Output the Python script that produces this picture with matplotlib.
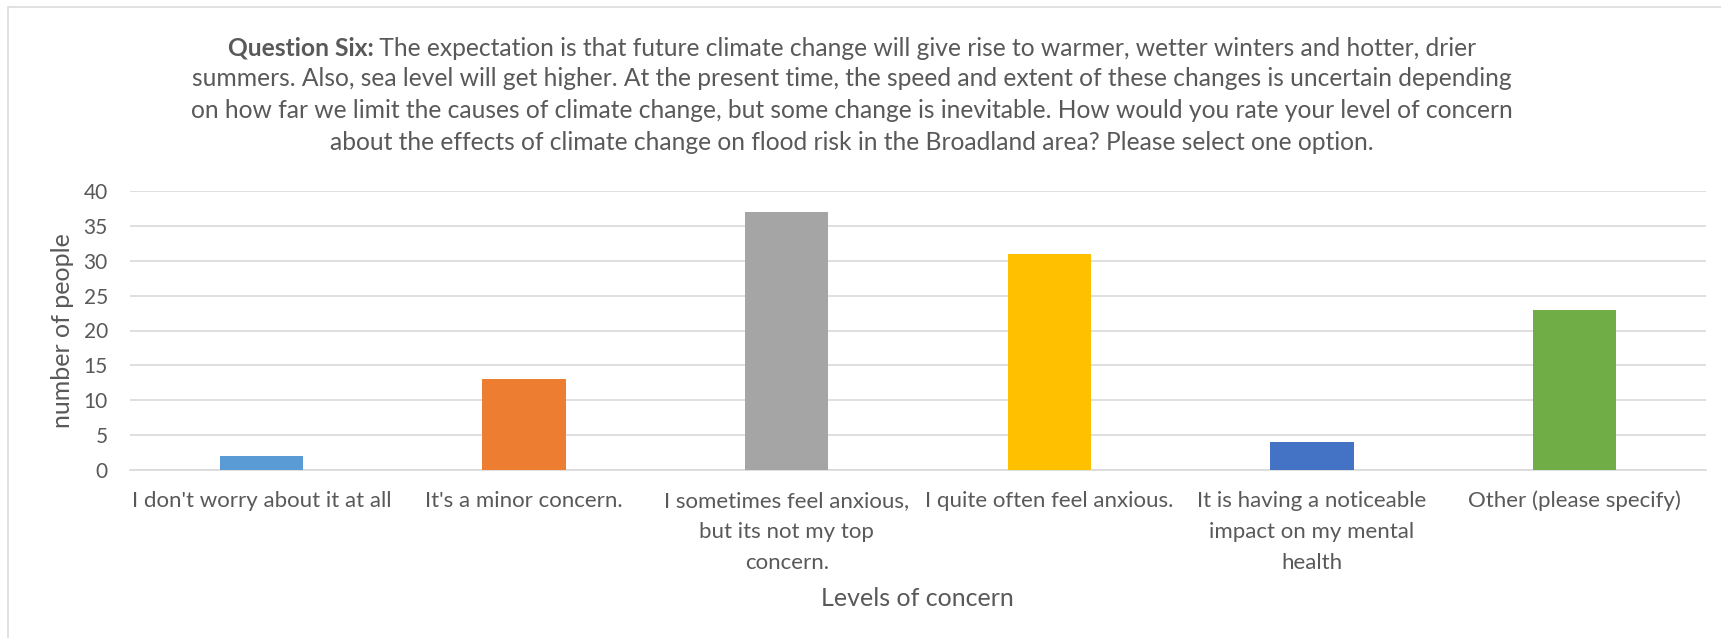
import matplotlib
matplotlib.use("Agg")
import matplotlib.pyplot as plt
from matplotlib.patches import Rectangle

# Survey responses: level of concern about climate change and flood risk
categories = [
    "I don't worry about it at all",
    "It's a minor concern.",
    "I sometimes feel anxious,\nbut its not my top\nconcern.",
    "I quite often feel anxious.",
    "It is having a noticeable\nimpact on my mental\nhealth",
    "Other (please specify)",
]
counts = [2, 13, 37, 31, 4, 23]
bar_colors = ["#5B9BD5", "#ED7D31", "#A5A5A5", "#FFC000", "#4472C4", "#70AD47"]
y_ticks = [0, 5, 10, 15, 20, 25, 30, 35, 40]

title_bold = "Question Six:"
title_lines = [
    " The expectation is that future climate change will give rise to warmer, wetter winters and hotter, drier",
    "summers. Also, sea level will get higher. At the present time, the speed and extent of these changes is uncertain depending",
    "on how far we limit the causes of climate change, but some change is inevitable. How would you rate your level of concern",
    "about the effects of climate change on flood risk in the Broadland area? Please select one option.",
]
x_title = "Levels of concern"
y_title = "number of people"

TEXT = "#595959"
GRID = "#D9D9D9"
FONT = "Lato"
plt.rcParams["font.family"] = [FONT, "DejaVu Sans"]

W, H, DPI = 1721, 638, 100
fig = plt.figure(figsize=(W / DPI, H / DPI), dpi=DPI)
fig.patch.set_facecolor("white")

# chart frame (runs off the right and bottom edges)
fig.patches.append(Rectangle((8 / W, -0.05), 1.2, 1 - 7 / H + 0.05,
                             transform=fig.transFigure, fill=False,
                             edgecolor=GRID, linewidth=1.1, clip_on=False))

ax = fig.add_axes([130 / W, 1 - 470 / H, (1706 - 130) / W, (470 - 191) / H])
x = range(len(categories))
ax.bar(x, counts, width=0.316, color=bar_colors, zorder=3)
ax.set_xlim(-0.5, len(categories) - 0.5)
ax.set_ylim(0, 40)
ax.set_yticks(y_ticks)
ax.yaxis.grid(True, color=GRID, linewidth=1.2, zorder=0)
ax.set_axisbelow(True)
for s in ("top", "right", "left"):
    ax.spines[s].set_visible(False)
ax.spines["bottom"].set_color(GRID)
ax.spines["bottom"].set_linewidth(1.2)

ax.set_xticks(list(x))
ax.set_xticklabels(categories, fontsize=16, color=TEXT, linespacing=1.69)
ax.tick_params(axis="x", length=0, pad=15)
ax.tick_params(axis="y", length=0, pad=16, labelsize=15, labelcolor=TEXT)

fig.text(62 / W, 1 - 331 / H, y_title, rotation=90, ha="center", va="center",
         fontsize=18, color=TEXT)
fig.text(917 / W, 1 - 598 / H, x_title, ha="center", va="center",
         fontsize=18, color=TEXT)

# multi-line title, first line starts with a bold lead-in
fig.canvas.draw()
renderer = fig.canvas.get_renderer()
cx = 852 / W
line_y = [48, 79, 111, 143]
tsize = 17.7
tb = fig.text(0, 1 - line_y[0] / H, title_bold, fontsize=tsize, fontweight="bold",
              color=TEXT, ha="left", va="center")
tr = fig.text(0, 1 - line_y[0] / H, title_lines[0], fontsize=tsize,
              color=TEXT, ha="left", va="center")
wb = tb.get_window_extent(renderer).width
wr = tr.get_window_extent(renderer).width
x0 = cx * W - (wb + wr) / 2
tb.set_x(x0 / W)
tr.set_x((x0 + wb) / W)
for line, yy in zip(title_lines[1:], line_y[1:]):
    fig.text(cx, 1 - yy / H, line, fontsize=tsize, color=TEXT,
             ha="center", va="center")

fig.savefig("out.png", dpi=DPI, facecolor="white")
